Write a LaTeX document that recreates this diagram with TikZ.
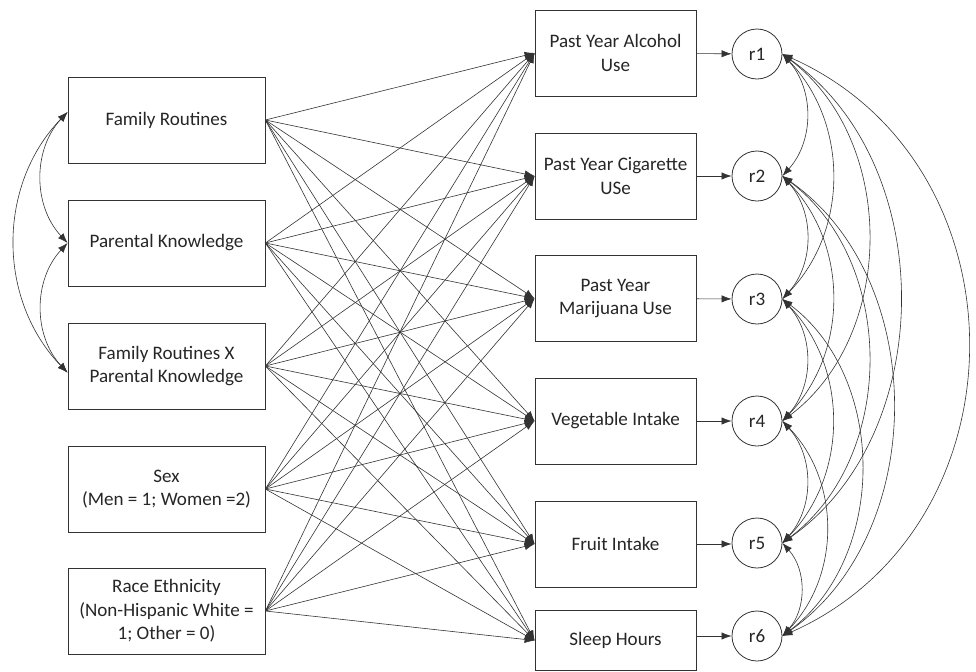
\documentclass[tikz,border=0pt]{standalone}
\usepackage{fontspec}
\setmainfont{Carlito}
\usetikzlibrary{arrows.meta}
\begin{document}
\begin{tikzpicture}[x=0.75pt,y=-0.75pt,
  basebox/.style={draw=black!80, line width=0.6pt, align=center, inner sep=2pt,
    font=\fontsize{14.3}{17.5}\selectfont, text=black!85},
  lbox/.style={basebox, minimum width=147.75pt, minimum height=64.5pt},
  rbox/.style={basebox, minimum width=120.75pt, minimum height=64.5pt},
  res/.style={draw=black!80, line width=0.6pt, circle, minimum size=37.5pt, inner sep=0pt,
    font=\fontsize{14.3}{17.5}\selectfont, text=black!85},
  tip/.style={},
  arr/.style={draw=black!80, line width=0.45pt, -{Latex[length=7.5pt,width=5.5pt]}},
  cov/.style={draw=black!80, line width=0.45pt, {Latex[length=7.5pt,width=5.5pt]}-{Latex[length=7.5pt,width=5.5pt]}}
]
\useasboundingbox (0,0) rectangle (976,672);

% predictors
\node[lbox] (fr) at (166.5,120) {Family Routines};
\node[lbox] (pk) at (166.5,243) {Parental Knowledge};
\node[lbox] (fx) at (166.5,366) {Family Routines X\\Parental Knowledge};
\node[lbox] (sx) at (166.5,489) {Sex\\(Men = 1; Women =2)};
\node[lbox] (re) at (166.5,611) {Race Ethnicity\\(Non-Hispanic White =\\1; Other = 0)};

% outcomes
\node[rbox] (al) at (615.5,53) {Past Year Alcohol\\Use};
\node[rbox] (cg) at (615.5,176) {Past Year Cigarette\\USe};
\node[rbox] (mj) at (615.5,298.5) {Past Year\\Marijuana Use};
\node[rbox] (vg) at (615.5,421) {Vegetable Intake};
\node[rbox] (fi) at (615.5,544) {Fruit Intake};
\node[rbox, minimum height=45pt] (sl) at (615.5,640.5) {Sleep Hours};

% residuals
\node[res] (r1) at (757,54) {r1};
\node[res] (r2) at (757,176) {r2};
\node[res] (r3) at (757,299) {r3};
\node[res] (r4) at (757,421) {r4};
\node[res] (r5) at (757,543) {r5};
\node[res] (r6) at (757,636) {r6};

% paths
\foreach \s in {fr,pk,fx,sx,re}
  \foreach \t in {al,cg,mj,vg,fi,sl}
    \draw[arr] (\s.east) -- (\t.west);

\draw[arr] (al) -- (r1);
\draw[arr] (cg) -- (r2);
\draw[arr] (mj) -- (r3);
\draw[arr] (vg) -- (r4);
\draw[arr] (fi.east) -- (fi.east -| r5.west);
\draw[arr] (r6.west -| sl.east) -- (r6.west);

% predictor covariances
\draw[cov] ([yshift=6pt]fr.west) to[bend right=43] (pk.west);
\draw[cov] ([yshift=6pt]fr.west) to[bend right=44] ([yshift=-5pt]fx.west);
\draw[cov] (pk.west) to[bend right=43] ([yshift=-5pt]fx.west);

% residual covariances
\draw[cov] (r1.east) to[bend left=42] (r2.east);
\draw[cov] (r2.east) to[bend left=42] (r3.east);
\draw[cov] (r3.east) to[bend left=42] (r4.east);
\draw[cov] (r4.east) to[bend left=42] (r5.east);
\draw[cov] (r5.east) to[bend left=42] (r6.east);
\draw[cov] (r1.east) to[bend left=44] (r3.east);
\draw[cov] (r2.east) to[bend left=44] (r4.east);
\draw[cov] (r3.east) to[bend left=44] (r5.east);
\draw[cov] (r4.east) to[bend left=44] (r6.east);
\draw[cov] (r1.east) to[bend left=53] (r4.east);
\draw[cov] (r2.east) to[bend left=53] (r5.east);
\draw[cov] (r3.east) to[bend left=53] (r6.east);
\draw[cov] (r1.east) to[bend left=55] (r5.east);
\draw[cov] (r2.east) to[bend left=55] (r6.east);
\draw[cov] (r1.east) to[bend left=66, looseness=1.19] (r6.east);
\end{tikzpicture}
\end{document}
